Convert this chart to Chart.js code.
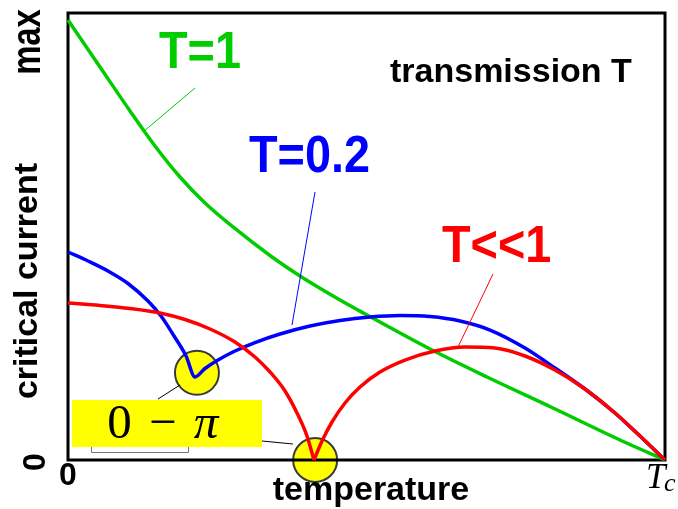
<!DOCTYPE html>
<html>
<head>
<meta charset="utf-8">
<script src="https://cdn.jsdelivr.net/npm/chart.js@4"></script>
<style>
body { margin: 0; background: #fff; }
</style>
</head>
<body>
<canvas id="cv" width="678" height="509"></canvas>
<script>
// temperature in units of Tc, critical current in units of "max"
const tGreen = [0, 0.0536, 0.1039, 0.1457, 0.1876, 0.2295, 0.2764, 0.3417, 0.3886, 0.4556, 0.5009, 0.6064, 0.7018, 0.8124, 0.9246, 1]
const iGreen = [0.9843, 0.8792, 0.7808, 0.7025, 0.6331, 0.5749, 0.5213, 0.4541, 0.4116, 0.3579, 0.3244, 0.2483, 0.1857, 0.1163, 0.0447, 0]

const tBlue = [0, 0.0335, 0.067, 0.1005, 0.134, 0.1558, 0.1776, 0.1977, 0.2127,
  0.2295, 0.2513, 0.2797, 0.3132, 0.3551, 0.4054, 0.4556, 0.5059, 0.5561, 0.6064, 0.6566, 0.7069, 0.7655, 0.8157, 0.866, 0.9162, 0.9581, 1]
const iBlue = [0.4653, 0.4452, 0.4228, 0.3949, 0.3557, 0.3221, 0.2774, 0.2327, 0.1857,
  0.2047, 0.2237, 0.2438, 0.2628, 0.2819, 0.2998, 0.3121, 0.3199, 0.3233, 0.321, 0.311, 0.2908, 0.2506, 0.2058, 0.1588, 0.1051, 0.0537, 0]

const tRed = [0, 0.0536, 0.1039, 0.1541, 0.196, 0.2379, 0.2797, 0.3132, 0.3384, 0.3635, 0.3836, 0.4003, 0.4121,
  0.4255, 0.4422, 0.464, 0.4891, 0.5226, 0.5645, 0.6147, 0.665, 0.7152, 0.7655, 0.8157, 0.866, 0.9162, 0.9581, 1]
const iRed = [0.3512, 0.3456, 0.3389, 0.3289, 0.3143, 0.2931, 0.264, 0.2304, 0.1969, 0.1544, 0.1051, 0.0537, 0,
  0.0425, 0.085, 0.1275, 0.1633, 0.1969, 0.2237, 0.2438, 0.2528, 0.2506, 0.2327, 0.2013, 0.1588, 0.1051, 0.0537, 0]

// 0-pi transition markers
const cuspT = [0.216, 0.414]
const cuspI = [0.195, 0]

const xTickLabels = ['0', 'T', 'c']
const yTickLabels = ['0', 'max']
const curveLabels = ['T=1', 'T=0.2', 'T<<1']

// lowest point inside the curve = the cusp
function cuspIndex(vals) {
  let k = 1
  for (let i = 1; i < vals.length - 1; i++) {
    if (vals[i] < vals[k]) k = i
  }
  return k
}
function pts(ts, vals, from, to) {
  const out = []
  for (let i = from; i <= to; i++) out.push({x: ts[i], y: vals[i]})
  return out
}

const kBlue = cuspIndex(iBlue)
const kRed = cuspIndex(iRed)

function curve(data, color, order) {
  return {
    data: data,
    borderColor: color,
    borderWidth: 3.5,
    pointRadius: 0,
    cubicInterpolationMode: 'monotone',
    fill: false,
    clip: 4,
    order: order
  }
}

const datasets = [
  {
    data: cuspT.map((t, i) => ({x: t, y: cuspI[i]})),
    showLine: false,
    pointRadius: 22,
    pointBackgroundColor: '#ffff00',
    pointBorderColor: '#3a3a3a',
    pointBorderWidth: 2,
    clip: false,
    order: 10
  },
  curve(pts(tGreen, iGreen, 0, tGreen.length - 1), '#00cc00', 3),
  curve(pts(tBlue, iBlue, 0, kBlue), '#0000ff', 2),
  curve(pts(tBlue, iBlue, kBlue, tBlue.length - 1), '#0000ff', 2),
  curve(pts(tRed, iRed, 0, kRed), '#ff0000', 1),
  curve(pts(tRed, iRed, kRed, tRed.length - 1), '#ff0000', 1)
]

function text(ctx, s, x, y, font, color, opts) {
  opts = opts || {}
  ctx.save()
  ctx.translate(x, y)
  if (opts.rot) ctx.rotate(opts.rot)
  ctx.scale(opts.sx || 1, 1)
  ctx.font = font
  ctx.fillStyle = color
  ctx.textAlign = opts.align || 'left'
  ctx.textBaseline = 'alphabetic'
  ctx.fillText(s, 0, 0)
  ctx.restore()
}
function seg(ctx, x1, y1, x2, y2, color, w) {
  ctx.save()
  ctx.strokeStyle = color
  ctx.lineWidth = w
  ctx.beginPath()
  ctx.moveTo(x1, y1)
  ctx.lineTo(x2, y2)
  ctx.stroke()
  ctx.restore()
}

const framePlugin = {
  id: 'frame',
  afterDatasetDraw(chart, args) {
    if (args.index !== 0) return
    const a = chart.chartArea
    const ctx = chart.ctx
    ctx.save()
    ctx.strokeStyle = '#000'
    ctx.lineWidth = 3
    ctx.strokeRect(a.left, a.top, a.right - a.left, a.bottom - a.top)
    ctx.restore()
  }
}

const sans = '"Liberation Sans", Arial, sans-serif'
const serif = '"Liberation Serif", "DejaVu Serif", serif'

const notesPlugin = {
  id: 'notes',
  afterDraw(chart) {
    const ctx = chart.ctx
    const up = -Math.PI / 2

    // axis texts
    text(ctx, xTickLabels[0], 68, 485, 'bold 32px ' + sans, '#000', {align: 'center'})
    text(ctx, xTickLabels[1], 646, 488, 'italic 35px ' + serif, '#000')
    text(ctx, xTickLabels[2], 664, 491, 'italic 26px ' + serif, '#000')
    text(ctx, 'temperature', 371, 500, 'bold 34px ' + sans, '#000', {align: 'center'})
    text(ctx, yTickLabels[0], 45, 462, 'bold 32px ' + sans, '#000', {align: 'center', rot: up})
    text(ctx, yTickLabels[1], 40, 42, 'bold 40px ' + sans, '#000', {align: 'center', rot: up, sx: 0.82})
    text(ctx, 'critical current', 37, 281, 'bold 34px ' + sans, '#000', {align: 'center', rot: up})
    text(ctx, 'transmission T', 390, 82, 'bold 34px ' + sans, '#000')

    // curve labels with leader lines
    text(ctx, curveLabels[0], 159, 68, 'bold 52px ' + sans, '#00cc00', {sx: 0.9})
    seg(ctx, 195, 88, 143, 132, '#00cc00', 1)
    text(ctx, curveLabels[1], 249, 172, 'bold 52px ' + sans, '#0000ff', {sx: 0.9})
    seg(ctx, 315, 192, 292, 325, '#0000ff', 1)
    text(ctx, curveLabels[2], 442, 262, 'bold 52px ' + sans, '#ff0000', {sx: 0.9})
    seg(ctx, 493, 274, 458, 347, '#ff0000', 1)

    // 0 - pi box
    ctx.save()
    ctx.strokeStyle = '#777'
    ctx.lineWidth = 1
    ctx.beginPath()
    ctx.moveTo(91.5, 440)
    ctx.lineTo(91.5, 452.5)
    ctx.lineTo(188.5, 452.5)
    ctx.lineTo(188.5, 440)
    ctx.stroke()
    ctx.fillStyle = '#ffff00'
    ctx.fillRect(72, 400, 190, 47)
    ctx.restore()
    text(ctx, '0', 119.5, 438, '49px ' + serif, '#000', {align: 'center'})
    text(ctx, '\u2212', 163, 438, '49px ' + serif, '#000', {align: 'center'})
    text(ctx, '\u03c0', 206, 438, 'italic 49px ' + serif, '#000', {align: 'center'})
    seg(ctx, 158, 399, 180, 385, '#000', 1)
    seg(ctx, 262, 441, 293, 444, '#000', 1)
  }
}

new Chart(document.getElementById('cv'), {
  type: 'line',
  data: {datasets: datasets},
  options: {
    responsive: false,
    animation: false,
    devicePixelRatio: 1,
    layout: {autoPadding: false, padding: {left: 68, top: 13, right: 13, bottom: 49}},
    scales: {
      x: {type: 'linear', min: 0, max: 1, display: false},
      y: {type: 'linear', min: 0, max: 1, display: false}
    },
    plugins: {
      legend: {display: false},
      tooltip: {enabled: false}
    }
  },
  plugins: [framePlugin, notesPlugin]
})
</script>
</body>
</html>
